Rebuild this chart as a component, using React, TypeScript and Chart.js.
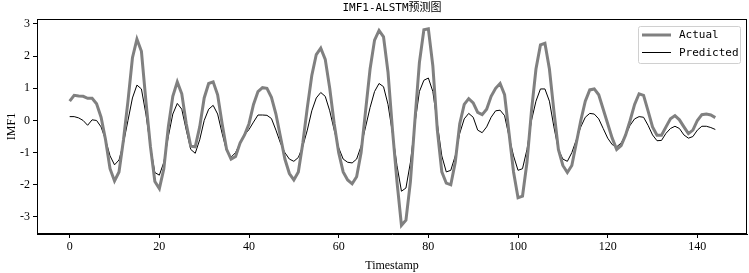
import React, { useEffect, useRef } from "react";
import { Chart, registerables } from "chart.js";

Chart.register(...registerables);

const TITLE = "IMF1-ALSTM预测图";
const X_LABEL = "Timestamp";
const Y_LABEL = "IMF1";
const SERIES_NAMES = ["Actual", "Predicted"];
const X_TICKS = [0, 20, 40, 60, 80, 100, 120, 140];
const Y_TICKS = [-3, -2, -1, 0, 1, 2, 3];

const actual = [
  0.6, 0.78, 0.76, 0.75, 0.69, 0.69, 0.52, 0.1, -0.6, -1.5,
  -1.88, -1.6, -0.6, 0.6, 1.95, 2.53, 2.15, 0.6, -0.8, -1.9,
  -2.12, -1.5, -0.2, 0.75, 1.2, 0.83, -0.1, -0.8, -0.82, -0.2,
  0.7, 1.15, 1.2, 0.8, -0.1, -0.9, -1.2, -1.12, -0.7, -0.45,
  -0.1, 0.5, 0.9, 1.02, 1.0, 0.72, 0.2, -0.5, -1.2, -1.65,
  -1.85, -1.6, -0.7, 0.4, 1.4, 2.05, 2.25, 1.9, 1.0, -0.1,
  -1.0, -1.6, -1.85, -1.97, -1.75, -1.0, 0.3, 1.6, 2.5, 2.8,
  2.6, 1.5, -0.3, -1.9, -3.26, -3.1, -1.9, 0.0, 1.8, 2.82,
  2.85, 1.7, -0.3, -1.6, -1.95, -2.0, -1.3, -0.1, 0.5, 0.68,
  0.55, 0.25, 0.18, 0.35, 0.75, 1.0, 1.15, 0.8, -0.4, -1.6,
  -2.4, -2.35, -1.3, 0.3, 1.6, 2.35, 2.4, 1.6, 0.3, -0.9,
  -1.4, -1.62, -1.4, -0.7, 0.0, 0.6, 0.95, 0.98, 0.8, 0.35,
  -0.1, -0.55, -0.9, -0.78, -0.45, 0.0, 0.5, 0.83, 0.78, 0.3,
  -0.2, -0.46, -0.46, -0.2, 0.05, 0.15, 0.02, -0.2, -0.41, -0.3,
  0.0, 0.18, 0.2, 0.17, 0.09,
];

const predicted = [
  0.12, 0.12, 0.08, 0.0, -0.15, 0.02, 0.0, -0.2, -0.6, -1.1,
  -1.38, -1.23, -0.7, 0.0, 0.7, 1.1, 0.98, 0.2, -0.8, -1.62,
  -1.7, -1.3, -0.5, 0.2, 0.53, 0.35, -0.3, -0.9, -1.02, -0.6,
  0.0, 0.35, 0.47, 0.2, -0.4, -0.95, -1.14, -1.0, -0.7, -0.45,
  -0.28, -0.05, 0.17, 0.17, 0.16, 0.06, -0.3, -0.7, -1.0, -1.2,
  -1.27, -1.15, -0.8, -0.3, 0.3, 0.7, 0.87, 0.75, 0.3, -0.3,
  -0.85, -1.2, -1.3, -1.32, -1.2, -0.8, -0.2, 0.4, 0.9, 1.15,
  1.05, 0.5, -0.4, -1.4, -2.2, -2.1, -1.3, -0.1, 0.9, 1.25,
  1.32, 0.9, -0.1, -1.1, -1.6, -1.55, -1.1, -0.4, 0.05, 0.22,
  0.1, -0.3, -0.38, -0.2, 0.1, 0.3, 0.32, 0.15, -0.5, -1.1,
  -1.55, -1.5, -0.9, 0.0, 0.6, 0.98, 0.98, 0.6, -0.2, -0.9,
  -1.2, -1.27, -1.0, -0.6, -0.2, 0.1, 0.22, 0.2, 0.05, -0.25,
  -0.55, -0.75, -0.82, -0.7, -0.45, -0.15, 0.05, 0.12, 0.1, -0.15,
  -0.45, -0.63, -0.62, -0.4, -0.25, -0.18, -0.25, -0.45, -0.55, -0.5,
  -0.3, -0.18, -0.18, -0.22, -0.28,
];

const SERIF = "'Liberation Serif', 'Times New Roman', serif";
const MONO = "'DejaVu Sans Mono', 'Liberation Mono', 'Noto Sans CJK SC', monospace";

export default function App() {
  const ref = useRef<HTMLCanvasElement | null>(null);

  useEffect(() => {
    if (!ref.current) return;
    const toXY = (arr: number[]) => arr.map((v, i) => ({ x: i, y: v }));

    const decor = {
      id: "decor",
      afterDraw(chart: any) {
        const { ctx, chartArea } = chart;
        const { left, right, top, bottom } = chartArea;
        ctx.save();
        ctx.strokeStyle = "#000";
        ctx.lineWidth = 1;
        ctx.strokeRect(left + 0.5, top + 0.5, right - left - 1, bottom - top - 1);
        ctx.fillStyle = "#000";
        ctx.font = `11px ${MONO}`;
        ctx.textAlign = "center";
        ctx.textBaseline = "middle";
        ctx.fillText(TITLE, (left + right) / 2, 8);
        ctx.font = `12px ${SERIF}`;
        ctx.fillText(X_LABEL, (left + right) / 2, 266);
        ctx.save();
        ctx.translate(12, (top + bottom) / 2);
        ctx.rotate(-Math.PI / 2);
        ctx.fillText(Y_LABEL, 0, 0);
        ctx.restore();
        // legend
        const lx = 638.5, ly = 26.5, lw = 102, lh = 37;
        ctx.fillStyle = "rgba(255,255,255,0.8)";
        ctx.strokeStyle = "#d0d0d0";
        ctx.lineWidth = 1;
        ctx.beginPath();
        const r = 2;
        ctx.moveTo(lx + r, ly);
        ctx.arcTo(lx + lw, ly, lx + lw, ly + lh, r);
        ctx.arcTo(lx + lw, ly + lh, lx, ly + lh, r);
        ctx.arcTo(lx, ly + lh, lx, ly, r);
        ctx.arcTo(lx, ly, lx + lw, ly, r);
        ctx.closePath();
        ctx.fill();
        ctx.stroke();
        const rows = [
          { name: SERIES_NAMES[0], color: "#808080", w: 3, y: 35 },
          { name: SERIES_NAMES[1], color: "#000000", w: 1, y: 52.5 },
        ];
        ctx.font = `11px ${MONO}`;
        ctx.textAlign = "left";
        for (const row of rows) {
          ctx.strokeStyle = row.color;
          ctx.lineWidth = row.w;
          ctx.beginPath();
          ctx.moveTo(642, row.y);
          ctx.lineTo(671, row.y);
          ctx.stroke();
          ctx.fillStyle = "#000";
          ctx.fillText(row.name, 679, row.y + 0.5);
        }
        ctx.restore();
      },
    };

    const chart = new Chart(ref.current, {
      type: "line",
      data: {
        datasets: [
          {
            label: SERIES_NAMES[0],
            data: toXY(actual),
            borderColor: "#808080",
            borderWidth: 3,
            pointRadius: 0,
            tension: 0,
            fill: false,
          },
          {
            label: SERIES_NAMES[1],
            data: toXY(predicted),
            borderColor: "#000000",
            borderWidth: 1,
            pointRadius: 0,
            tension: 0,
            fill: false,
          },
        ],
      },
      options: {
        animation: false,
        responsive: false,
        maintainAspectRatio: false,
        layout: { padding: { top: 19, right: 2, left: 0, bottom: 0 } },
        plugins: {
          legend: { display: false },
          title: { display: false },
          tooltip: { enabled: false },
        },
        scales: {
          x: {
            type: "linear",
            min: -7.29,
            max: 151.07,
            afterFit: (s: any) => { s.height = 39; },
            afterBuildTicks: (s: any) => { s.ticks = X_TICKS.map((v) => ({ value: v })); },
            grid: { drawOnChartArea: false, drawTicks: true, tickLength: 4, color: "#000" },
            border: { display: true, color: "#000" },
            ticks: {
              color: "#000",
              font: { family: SERIF, size: 12 },
              padding: 2,
              maxRotation: 0,
            },
          },
          y: {
            type: "linear",
            min: -3.53,
            max: 3.155,
            afterFit: (s: any) => { s.width = 37; },
            afterBuildTicks: (s: any) => { s.ticks = Y_TICKS.map((v) => ({ value: v })); },
            grid: { drawOnChartArea: false, drawTicks: true, tickLength: 4, color: "#000" },
            border: { display: true, color: "#000" },
            ticks: {
              color: "#000",
              font: { family: SERIF, size: 12 },
              padding: 3,
            },
          },
        },
      },
      plugins: [decor],
    });
    return () => chart.destroy();
  }, []);

  return (
    <div style={{ position: "fixed", left: 0, top: 0, width: 749, height: 273, background: "#fff" }}>
      <canvas ref={ref} width={749} height={273} style={{ width: 749, height: 273, display: "block" }} />
    </div>
  );
}
